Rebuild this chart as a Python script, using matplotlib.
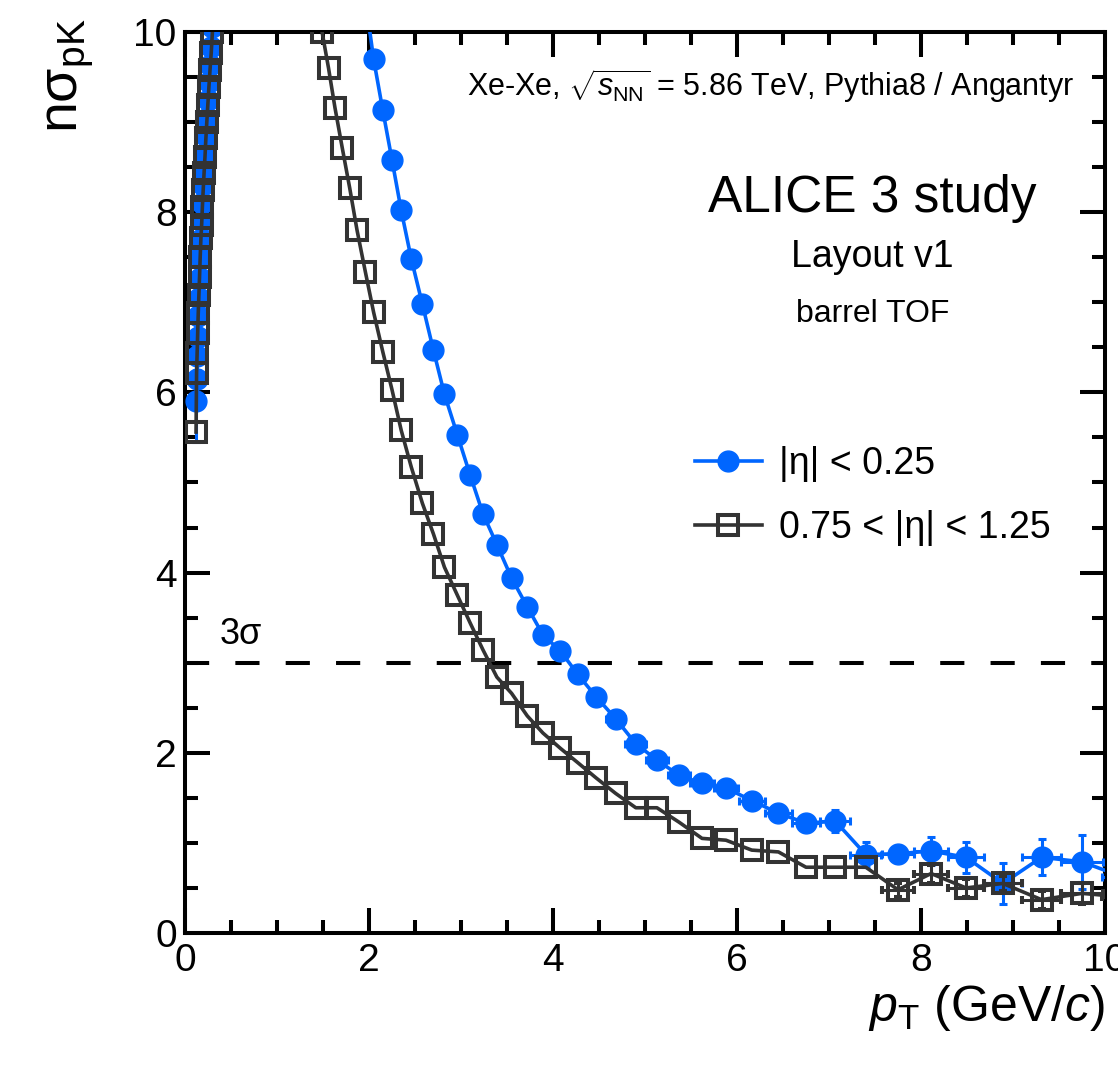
import numpy as np
import matplotlib
matplotlib.use('Agg')
import matplotlib.pyplot as plt
from matplotlib.lines import Line2D
from matplotlib.ticker import MultipleLocator

plt.rcParams['font.family'] = ['Liberation Sans', 'DejaVu Sans']
plt.rcParams['mathtext.fontset'] = 'custom'
plt.rcParams['mathtext.rm'] = 'Liberation Sans'
plt.rcParams['mathtext.it'] = 'Liberation Sans:italic'
plt.rcParams['mathtext.bf'] = 'Liberation Sans:bold'

# ---------------- data ----------------
pt_low = [0.120, 0.126, 0.132, 0.138, 0.144, 0.151, 0.158, 0.165, 0.173, 0.181,
          0.189, 0.198, 0.207, 0.217, 0.227, 0.237, 0.248, 0.260, 0.272, 0.285, 0.298]
pt_high = [2.05, 2.15, 2.25, 2.35, 2.46, 2.58, 2.70, 2.82, 2.96, 3.10, 3.24, 3.39,
           3.55, 3.72, 3.89, 4.08, 4.27, 4.47, 4.68, 4.90, 5.13, 5.37, 5.62, 5.88,
           6.16, 6.45, 6.75, 7.07, 7.40, 7.75, 8.11, 8.49, 8.89, 9.31, 9.75, 10.2]
pt_mid_central = [0.312, 1.96]
pt_mid_forward = [0.312, 1.42, 1.49, 1.56, 1.63, 1.71, 1.79, 1.87, 1.96]

# |eta| < 0.25
nsig_central_low = [5.90, 6.15, 6.40, 6.62, 6.85, 7.05, 7.27, 7.50, 7.70, 7.90,
                    8.10, 8.30, 8.47, 8.65, 8.85, 9.05, 9.25, 9.45, 9.63, 9.83, 10.05]
nsig_central_mid = [10.25, 10.37]
nsig_central_high = [9.70, 9.13, 8.58, 8.02, 7.48, 6.98, 6.47, 5.98, 5.53, 5.08, 4.65, 4.31,
                     3.94, 3.62, 3.31, 3.13, 2.87, 2.62, 2.38, 2.10, 1.92, 1.75, 1.66, 1.61,
                     1.47, 1.33, 1.22, 1.24, 0.87, 0.88, 0.91, 0.84, 0.55, 0.84, 0.79, 0.62]
err_central_low = [0.45, 0.20, 0.15, 0.15, 0.12, 0.12, 0.10, 0.10, 0.10, 0.10,
                   0.08, 0.08, 0.08, 0.08, 0.08, 0.08, 0.08, 0.08, 0.08, 0.08, 0.08]
err_central_mid = [0.08, 0.05]
err_central_high = [0.03, 0.03, 0.03, 0.03, 0.03, 0.03, 0.03, 0.03, 0.03, 0.03, 0.03, 0.03,
                    0.03, 0.03, 0.03, 0.03, 0.03, 0.04, 0.06, 0.05, 0.05, 0.05, 0.05, 0.05,
                    0.06, 0.06, 0.06, 0.12, 0.14, 0.08, 0.16, 0.17, 0.23, 0.20, 0.30, 0.30]

# 0.75 < |eta| < 1.25
nsig_forward_low = [5.56, 6.22, 6.44, 6.66, 6.88, 7.08, 7.28, 7.50, 7.71, 7.86,
                    8.06, 8.25, 8.43, 8.61, 8.82, 9.00, 9.19, 9.39, 9.58, 9.77, 10.00]
nsig_forward_mid = [10.20, 10.45, 10.00, 9.60, 9.16, 8.71, 8.27, 7.80, 7.34]
nsig_forward_high = [6.89, 6.45, 6.03, 5.58, 5.17, 4.77, 4.43, 4.06, 3.75, 3.44, 3.14, 2.84,
                     2.66, 2.41, 2.22, 2.05, 1.89, 1.72, 1.55, 1.39, 1.39, 1.23, 1.05, 1.03,
                     0.92, 0.90, 0.73, 0.73, 0.73, 0.48, 0.66, 0.50, 0.55, 0.37, 0.44, 0.40]
err_forward_low = [0.10, 0.06, 0.06, 0.06, 0.06, 0.06, 0.06, 0.06, 0.06, 0.06,
                   0.06, 0.06, 0.06, 0.06, 0.06, 0.06, 0.06, 0.06, 0.06, 0.06, 0.06]
err_forward_mid = [0.05, 0.05, 0.04, 0.04, 0.04, 0.04, 0.04, 0.04, 0.04]
err_forward_high = [0.03, 0.03, 0.03, 0.03, 0.03, 0.03, 0.03, 0.03, 0.03, 0.03, 0.03, 0.03,
                    0.03, 0.03, 0.03, 0.03, 0.03, 0.03, 0.03, 0.03, 0.03, 0.03, 0.03, 0.03,
                    0.04, 0.04, 0.05, 0.05, 0.05, 0.08, 0.10, 0.10, 0.08, 0.10, 0.12, 0.12]

bin_rel_halfwidth = 0.023   # relative half width of the log-spaced pT bins

label_central = '|η| < 0.25'
label_forward = '0.75 < |η| < 1.25'
x_ticks = [0, 2, 4, 6, 8, 10]
y_ticks = [0, 2, 4, 6, 8, 10]

# ---------------- style ----------------
BLUE = '#0066ff'
GRAY = '#333333'

pt_c = np.array(pt_low + pt_mid_central + pt_high)
y_c = np.array(nsig_central_low + nsig_central_mid + nsig_central_high)
e_c = np.array(err_central_low + err_central_mid + err_central_high)
pt_f = np.array(pt_low + pt_mid_forward + pt_high)
y_f = np.array(nsig_forward_low + nsig_forward_mid + nsig_forward_high)
e_f = np.array(err_forward_low + err_forward_mid + err_forward_high)

# error bars are only visible where they stick out of the marker (as in ROOT)
show_c = (e_c > 0.1) | (pt_c > 4.6)
show_f = (e_f > 0.12) | (pt_f > 7.6)

fig = plt.figure(figsize=(11.18, 10.66), dpi=100)
ax = fig.add_axes([185/1118, 1 - 933/1066, 920/1118, 901/1066])

ax.errorbar(pt_c, y_c, yerr=e_c, xerr=pt_c*bin_rel_halfwidth, errorevery=show_c,
            color=BLUE, lw=2.6, marker='o', ms=15, mec=BLUE, mfc=BLUE,
            elinewidth=2.2, capsize=3, capthick=2.2, zorder=3)
ax.errorbar(pt_f, y_f, yerr=e_f, xerr=pt_f*bin_rel_halfwidth, errorevery=show_f,
            color=GRAY, lw=2.6, marker='s', ms=15, mec=GRAY, mfc='none', mew=2.9,
            elinewidth=2.2, capsize=3, capthick=2.2, zorder=4)

ax.axhline(3, color='black', lw=2.9, dashes=(6, 6.5), zorder=2)
ax.text(0.38, 3.12, '3σ', fontsize=26, ha='left', va='bottom')

ax.set_xlim(0, 10)
ax.set_ylim(0, 10)
ax.set_xticks(x_ticks)
ax.set_yticks(y_ticks)
ax.xaxis.set_minor_locator(MultipleLocator(0.5))
ax.yaxis.set_minor_locator(MultipleLocator(0.5))
ax.tick_params(which='both', direction='in', top=True, right=True, width=2.9,
               labelsize=28)
ax.tick_params(which='major', length=18)
ax.tick_params(which='minor', length=9.5)
ax.tick_params(axis='x', pad=7)
ax.tick_params(axis='y', pad=6)
for s in ax.spines.values():
    s.set_linewidth(2.9)

ax.set_xlabel(r'$p_{\mathrm{T}}$ (GeV/$c$)', fontsize=36, loc='right')
ax.xaxis.set_label_coords(1.0, -0.056)
fig.text(70/1118, 1 - 18/1066, 'nσ$_{\\mathrm{pK}}$', rotation=90, fontsize=40,
         ha='center', va='top')

ax.text(0.967, 0.94, r'Xe-Xe, $\sqrt{s_{\mathrm{NN}}}$ = 5.86 TeV, Pythia8 / Angantyr',
        transform=ax.transAxes, fontsize=22, ha='right', va='center')
ax.text(0.747, 0.815, 'ALICE 3 study', transform=ax.transAxes, fontsize=37,
        ha='center', va='center')
ax.text(0.747, 0.75, 'Layout v1', transform=ax.transAxes, fontsize=27,
        ha='center', va='center')
ax.text(0.747, 0.687, 'barrel TOF', transform=ax.transAxes, fontsize=23,
        ha='center', va='center')

handles = [Line2D([], [], color=BLUE, lw=2.6, marker='o', ms=15, mfc=BLUE, mec=BLUE),
           Line2D([], [], color=GRAY, lw=2.6, marker='s', ms=15, mfc='none', mec=GRAY, mew=2.9)]
leg = ax.legend(handles, [label_central, label_forward], loc='upper left',
                bbox_to_anchor=(695/1118, 1 - 446/1066), bbox_transform=fig.transFigure,
                frameon=False, fontsize=27, handlelength=1.78, handletextpad=0.45,
                labelspacing=0.76, borderpad=0, borderaxespad=0)

fig.savefig('out.png', dpi=100)
